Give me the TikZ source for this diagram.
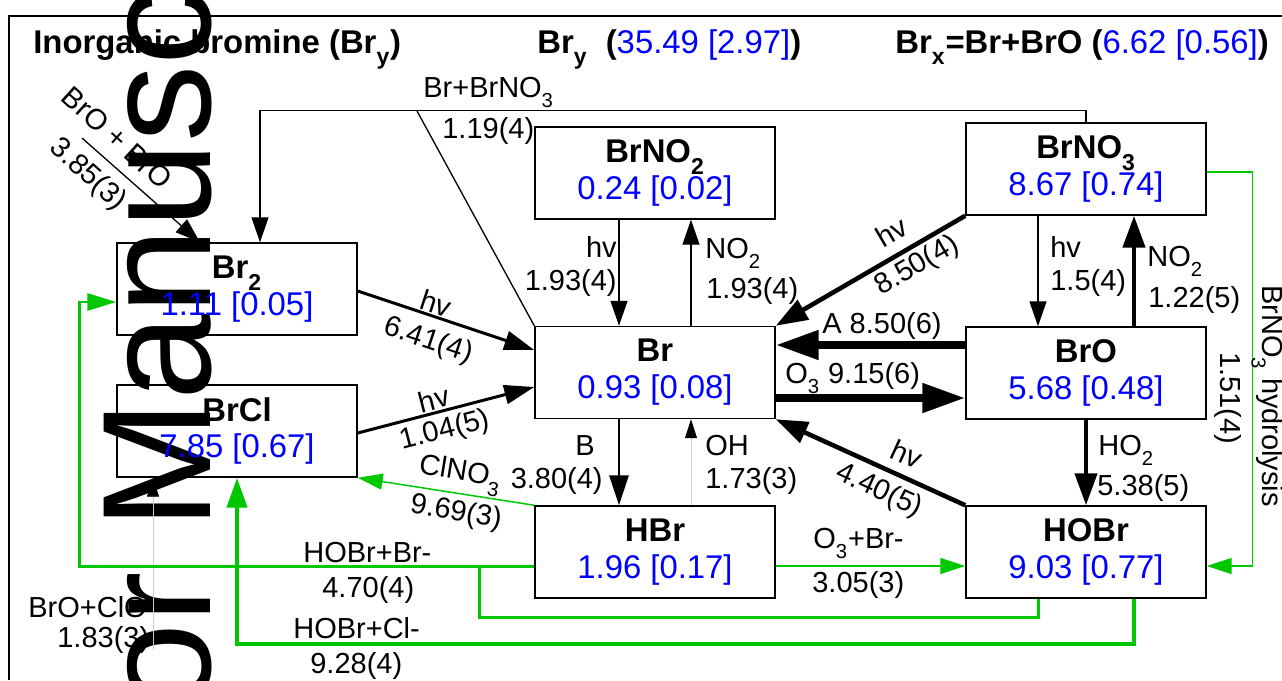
\documentclass[tikz,border=0pt]{standalone}
\usepackage{fontspec}
\setmainfont{Liberation Sans}
\usetikzlibrary{arrows.meta,calc}
\definecolor{valblue}{RGB}{0,0,255}
\definecolor{rxngreen}{RGB}{0,200,0}
\definecolor{faintgray}{RGB}{205,205,205}

\newcommand{\boxfont}{\fontsize{18.7}{21}\selectfont}
\newcommand{\labfont}{\fontsize{16.5}{19}\selectfont}
\newcommand{\sbs}[1]{\raisebox{-0.2em}{\textsubscript{#1}}}
\newcommand{\val}[1]{\textcolor{valblue}{\mdseries #1}}

\tikzset{
  species/.style={draw, line width=0.85pt, minimum width=4.8cm, minimum height=1.84cm,
    inner sep=0pt, align=center, font=\boxfont},
  lab/.style={inner sep=0pt, font=\labfont},
  link/.style={line width=0.75pt},
  rx/.style={line width=0.75pt, -{Triangle[length=0.5cm,width=0.34cm]}},
  rxmid/.style={line width=1.7pt, -{Triangle[length=0.6cm,width=0.38cm]}},
  rxbold/.style={line width=2.6pt, -{Triangle[length=0.64cm,width=0.44cm]}},
  rxheavy/.style={line width=4.5pt, -{Triangle[length=0.86cm,width=0.56cm]}},
  rxfaint/.style={line width=0.5pt, faintgray, -{Triangle[length=0.38cm,width=0.24cm,color=black]}},
  het/.style={rxngreen, line width=0.85pt, -{Triangle[length=0.5cm,width=0.32cm]}},
  hetmid/.style={rxngreen, line width=1.7pt},
  hetbold/.style={rxngreen, line width=2.4pt, -{Triangle[length=0.6cm,width=0.4cm]}}
}

\begin{document}
\begin{tikzpicture}[x=0.02cm, y=-0.02cm]
  \useasboundingbox (0,0) rectangle (1282,680);
  \clip (0,0) rectangle (1282,680);

  % watermark
  \node[rotate=90, anchor=base west, inner sep=0pt, font=\fontsize{88}{88}\selectfont] (wm) at (210,1028) {Author Manuscript};

  % frame and titles
  \draw[line width=0.8pt] (9,680) -- (9,16) -- (1282,16);
  \node[anchor=base west, inner sep=0pt, font=\boxfont\bfseries] (ttl) at (33,53) {Inorganic bromine (Br\sbs{y})};
  \node[anchor=base west, inner sep=0pt, font=\boxfont\bfseries] (tty) at (537,53) {Br\sbs{y}\ \ (\val{35.49 [2.97]})};
  \node[anchor=base west, inner sep=0pt, font=\boxfont\bfseries] (ttx) at (895,53) {Br\sbs{x}=Br+BrO (\val{6.62 [0.56]})};

  % species
  \node[species] (BrNO2) at (655,173) {\textbf{BrNO\sbs{2}}\\\val{0.24 [0.02]}};
  \node[species] (BrNO3) at (1086,169) {\textbf{BrNO\sbs{3}}\\\val{8.67 [0.74]}};
  \node[species] (Br2) at (237,289) {\textbf{Br\sbs{2}}\\\val{1.11 [0.05]}};
  \node[species] (BrCl) at (237,431) {\textbf{BrCl}\\\val{7.85 [0.67]}};
  \node[species] (Br) at (655,372.5) {\textbf{Br}\\\val{0.93 [0.08]}};
  \node[species] (BrO) at (1086,373) {\textbf{BrO}\\\val{5.68 [0.48]}};
  \node[species] (HBr) at (655,552) {\textbf{HBr}\\\val{1.96 [0.17]}};
  \node[species] (HOBr) at (1086,552) {\textbf{HOBr}\\\val{9.03 [0.77]}};

  % gas phase reactions
  \coordinate (bj) at (417,111);
  \coordinate (bb) at (82,138);
  \draw[rx] (BrNO3.north) -- ++(0,-12) -| ($(Br2.north)+(23,0)$);
  \draw[link] (Br.north west) -- (bj);
  \draw[rx] (bb) -- ($(Br2.north)+(-37,0)$);
  \draw[rxmid] ($(Br2.east)+(0,2)$) -- ($(Br.west)+(0,-22.5)$);
  \draw[rxmid] ($(BrCl.east)+(0,2)$) -- ($(Br.west)+(0,14.5)$);
  \draw[rx] ($(BrNO2.south)+(-36,0)$) -- ($(Br.north)+(-36,0)$);
  \draw[rx] ($(Br.north)+(36,0)$) -- ($(BrNO2.south)+(36,0)$);
  \draw[rxbold] (BrNO3.south west) -- (Br.north east);
  \draw[rxheavy] ($(BrO.west)+(0,-28)$) -- ($(Br.east)+(0,-27.5)$);
  \draw[rxheavy] ($(Br.east)+(0,25.5)$) -- ($(BrO.west)+(0,25)$);
  \draw[rx] ($(BrNO3.south)+(-48,0)$) -- ($(BrO.north)+(-48,0)$);
  \draw[rxbold] ($(BrO.north)+(48,0)$) -- ($(BrNO3.south)+(48,0)$);
  \draw[rxbold] (BrO.south) -- (HOBr.north);
  \draw[rxbold] (HOBr.north west) -- (Br.south east);
  \draw[rxmid] ($(Br.south)+(-36,0)$) -- ($(HBr.north)+(-36,0)$);
  \draw[rxfaint] ($(HBr.north)+(36,0)$) -- ($(Br.south)+(36,0)$);
  \coordinate (bc) at (153,650);
  \draw[rxfaint] (bc) -- (BrCl.south -| bc);

  % heterogeneous reactions
  \coordinate (hb) at ($(HBr.west)+(0,14)$);
  \draw[het] (HBr.north west) -- (BrCl.south east);
  \draw[hetmid] ($(HOBr.south)+(-48,0)$) -- ++(0,19) -| ($(hb)+(-55,0)$);
  \draw[hetmid, -{Triangle[length=0.58cm,width=0.34cm]}] (hb) -| ($(Br2.west)+(-37,13)$) -- ($(Br2.west)+(0,13)$);
  \draw[hetbold] ($(HOBr.south)+(48,0)$) -- ++(0,45) -| (BrCl.south);
  \draw[het] ($(HBr.east)+(0,14)$) -- ($(HOBr.west)+(0,14)$);
  \draw[het] ($(BrNO3.east)+(0,3)$) -- ++(46,0) |- ($(HOBr.east)+(0,14)$);

  % rate labels
  \node[lab, anchor=base west] (la1) at (423,97) {Br+BrNO\sbs{3}};
  \node[lab, anchor=base west] (lb1) at (442,138) {1.19(4)};
  \node[lab, rotate=-42] (la2) at (117,138) {BrO + BrO};
  \node[lab, rotate=-42] (lb2) at (88,175) {3.85(3)};
  \node[lab, rotate=-18.3] (la3) at (436,303) {hv};
  \node[lab, rotate=-18.3] (lb3) at (428,341) {6.41(4)};
  \node[lab, rotate=14.5] (la4) at (434,399) {hv};
  \node[lab, rotate=14.5] (lb4) at (445,431) {1.04(5)};
  \node[lab, anchor=base east] (la5) at (617,257) {hv};
  \node[lab, anchor=base east] (lb5) at (617,290) {1.93(4)};
  \node[lab, anchor=base west] (la6) at (705,258) {NO\sbs{2}};
  \node[lab, anchor=base west] (lb6) at (706,298) {1.93(4)};
  \node[lab, rotate=30.3] (la7) at (891,232) {hv};
  \node[lab, rotate=30.3] (lb7) at (917,266) {8.50(4)};
  \node[lab, anchor=base west] (la8) at (822,333) {A 8.50(6)};
  \node[lab, anchor=base west] (la9) at (785,383) {O\sbs{3} 9.15(6)};
  \node[lab, anchor=base west] (la10) at (1050,257) {hv};
  \node[lab, anchor=base west] (lb10) at (1050,290) {1.5(4)};
  \node[lab, anchor=base west] (la11) at (1147,266) {NO\sbs{2}};
  \node[lab, anchor=base west] (lb11) at (1148,307) {1.22(5)};
  \node[lab, anchor=base west] (la12) at (1098,455) {HO\sbs{2}};
  \node[lab, anchor=base west] (lb12) at (1097,495) {5.38(5)};
  \node[lab, rotate=-24.6] (la13) at (907,454) {hv};
  \node[lab, rotate=-24.6] (lb13) at (879,491) {4.40(5)};
  \node[lab, anchor=base east] (la14) at (595,455) {B};
  \node[lab, anchor=base east] (lb14) at (603,488) {3.80(4)};
  \node[lab, anchor=base west] (la15) at (705,455) {OH};
  \node[lab, anchor=base west] (lb15) at (705,488) {1.73(3)};
  \node[lab, rotate=-9.3] (la16) at (460,475) {ClNO\sbs{3}};
  \node[lab, rotate=-9.3] (lb16) at (456,513) {9.69(3)};
  \node[lab, anchor=base west] (la17) at (303,562) {HOBr+Br-};
  \node[lab, anchor=base west] (lb17) at (322,597) {4.70(4)};
  \node[lab, anchor=base west] (la18) at (293,638) {HOBr+Cl-};
  \node[lab, anchor=base west] (lb18) at (310,673) {9.28(4)};
  \node[lab, anchor=base west] (la19) at (813,548) {O\sbs{3}+Br-};
  \node[lab, anchor=base west] (lb19) at (812,592) {3.05(3)};
  \node[lab, rotate=-90, anchor=base west] (la20) at (1262,285) {BrNO\sbs{3} hydrolysis};
  \node[lab, rotate=-90, anchor=base west] (lb20) at (1220,352) {1.51(4)};
  \node[lab, anchor=base west] (la21) at (28,617) {BrO+ClO};
  \node[lab, anchor=base west] (lb21) at (57,647) {1.83(3)};
\end{tikzpicture}
\end{document}
